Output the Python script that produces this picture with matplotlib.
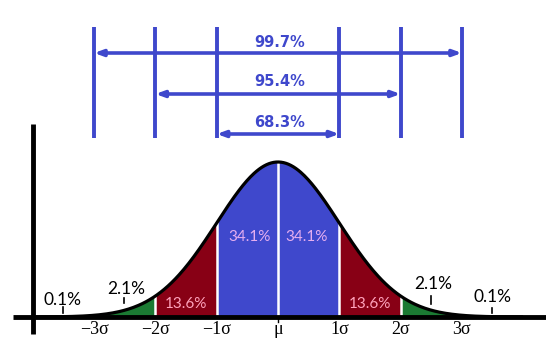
import numpy as np
import matplotlib
matplotlib.use("Agg")
import matplotlib.pyplot as plt

# ---- data ----
sigma_bounds = [-3, -2, -1, 0, 1, 2, 3]
band_edges = [-3, -2, -1, 0, 1, 2, 3]          # filled bands between consecutive edges
band_colors = ["#1B7A33", "#880015", "#3F48CC", "#3F48CC", "#880015", "#1B7A33"]
inner_labels = ["13.6%", "34.1%", "34.1%", "13.6%"]    # bands -2..-1, -1..0, 0..1, 1..2
inner_centers = [-1.5, -0.5, 0.5, 1.5]
tail_labels = ["0.1%", "2.1%", "2.1%", "0.1%"]
tail_points = [-3.5, -2.5, 2.5, 3.5]
coverage_labels = ["68.3%", "95.4%", "99.7%"]
coverage_k = [1, 2, 3]
tick_labels = ["\u22123\u03c3", "\u22122\u03c3", "\u22121\u03c3", "\u03bc", "1\u03c3", "2\u03c3", "3\u03c3"]

# ---- pixel layout helpers ----
W, H = 546, 354
MU_PX, SIG_PX = 278.0, 61.3
BASE_PX, PEAK_PX = 317.0, 162.0
PEAK = 1 / np.sqrt(2 * np.pi)
YS = PEAK / (BASE_PX - PEAK_PX)


def px(x):
    return (x - MU_PX) / SIG_PX


def py(y):
    return (BASE_PX - y) * YS


def pdf(x):
    return np.exp(-0.5 * np.asarray(x) ** 2) / np.sqrt(2 * np.pi)


fig = plt.figure(figsize=(W / 100, H / 100), dpi=100)
ax = fig.add_axes([0, 0, 1, 1])
ax.set_xlim(px(0), px(W))
ax.set_ylim(py(H), py(0))
ax.axis("off")

BLUE = "#3F48CC"

# filled bands
for a, b, c in zip(band_edges[:-1], band_edges[1:], band_colors):
    xs = np.linspace(a, b, 100)
    ax.fill_between(xs, 0, pdf(xs), color=c, lw=0, zorder=1)

# white separators
for s in [-2, -1, 0, 1, 2]:
    ax.plot([s, s], [0, pdf(s)], color="white", lw=1.8, zorder=2)

# curve
xc = np.linspace(-4, 4, 400)
ax.plot(xc, pdf(xc), color="black", lw=2.3, zorder=3, solid_capstyle="butt")

# axes lines
ax.plot([px(13), px(W)], [0, 0], color="black", lw=3.5, zorder=4, solid_capstyle="butt")
ax.plot([px(33), px(33)], [py(124), py(334)], color="black", lw=3.5, zorder=4, solid_capstyle="butt")
ax.plot([0, 0], [py(318), py(322)], color="black", lw=1, zorder=4)

# tick labels
for s, lab in zip(sigma_bounds, tick_labels):
    ax.text(s, py(330), lab, ha="center", va="center", fontsize=13,
            family="Liberation Serif", color="black")

# inner labels
inner_colors = {"34.1%": "#E6AEF0", "13.6%": "#FFA3BC"}
for xc_, lab in zip(inner_centers, inner_labels):
    yy = py(237) if lab == "34.1%" else py(304)
    ax.text(xc_ * (0.93 if lab == "34.1%" else 1.0), yy, lab, ha="center", va="center",
            fontsize=11, family="Lato", color=inner_colors[lab], zorder=5)

# tail labels with small ticks
tail_text_px = [(62, 300), (126, 288.5), (433, 284), (492, 297.5)]
tail_tick_px = [(63, 307, 313), (124, 298, 303), (431, 296, 304), (492, 308, 313)]
for lab, (tx, ty), (kx, k0, k1) in zip(tail_labels, tail_text_px, tail_tick_px):
    ax.text(px(tx), py(ty), lab, ha="center", va="center", fontsize=12.5,
            family="Lato", color="black")
    ax.plot([px(kx), px(kx)], [py(k0), py(k1)], color="black", lw=1.2)

# coverage arrows
for s in [-3, -2, -1, 1, 2, 3]:
    ax.plot([s, s], [py(27), py(138)], color=BLUE, lw=2.8, solid_capstyle="butt")
arrow_y = {1: 134, 2: 94, 3: 53}
text_y = {1: 122.5, 2: 82, 3: 42.5}
for lab, k in zip(coverage_labels, coverage_k):
    ax.annotate("", xy=(k, py(arrow_y[k])), xytext=(-k, py(arrow_y[k])),
                arrowprops=dict(arrowstyle="<|-|>,head_length=0.6,head_width=0.22",
                                color=BLUE, lw=2.6,
                                mutation_scale=8, shrinkA=0, shrinkB=0))
    ax.text(px(280), py(text_y[k]), lab, ha="center", va="center", fontsize=10.5,
            fontweight="bold", family="DejaVu Sans", color=BLUE)

fig.savefig("out.png", dpi=100)
